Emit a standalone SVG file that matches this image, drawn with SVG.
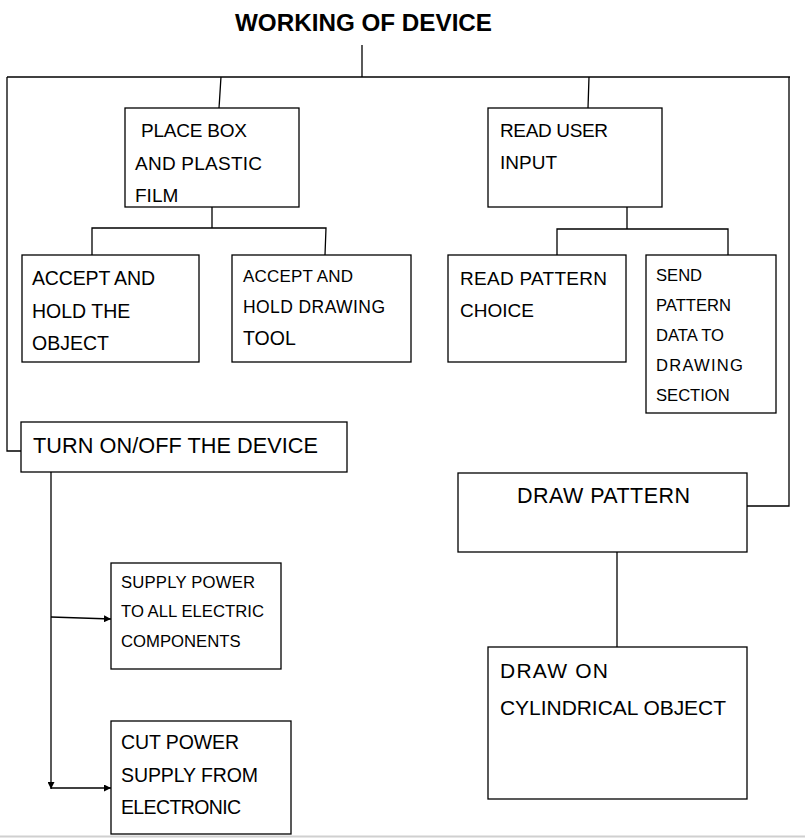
<svg xmlns="http://www.w3.org/2000/svg" width="805" height="838" viewBox="0 0 805 838">
<style>
.box{fill:#fff;stroke:#000;stroke-width:1.3}
.t{font-family:"Liberation Sans",Arial,sans-serif;fill:#000}
.c{fill:none;stroke:#000;stroke-width:1.3}
</style>
<defs>
<marker id="ah" viewBox="0 0 10 10" refX="10" refY="5" markerWidth="7" markerHeight="7" markerUnits="userSpaceOnUse" orient="auto">
<path d="M0,0 L10,5 L0,10 z" fill="#000"/>
</marker>
</defs>
<rect width="805" height="838" fill="#fff"/>
<line x1="0" y1="836.5" x2="805" y2="836.5" stroke="#d0d0d0" stroke-width="2"/>
<text class="t" x="235" y="31" font-size="24" font-weight="bold" textLength="257" lengthAdjust="spacingAndGlyphs">WORKING OF DEVICE</text>
<g id="connectors">
<path class="c" d="M362,45 V77"/>
<path class="c" d="M7,77 H790"/>
<path class="c" d="M221,77 L219,108"/>
<path class="c" d="M589,77 L588,108"/>
<path class="c" d="M7,77 V451 H21"/>
<path class="c" d="M789,77 V506 H747"/>
<path class="c" d="M212,207 V228 M92,255 V228 H326 L325,255"/>
<path class="c" d="M627,207 V229 M557,255 V229 H728 V255"/>
<path class="c" d="M617,552 V647"/>
<path class="c" d="M51,472 V789" marker-end="url(#ah)"/>
<path class="c" d="M51,617 L111,619" stroke="#444" marker-end="url(#ah)"/>
<path class="c" d="M51,788 H111" marker-end="url(#ah)"/>
</g>
<g id="place-box">
<rect class="box" x="125" y="108" width="174" height="99"/>
<text class="t" font-size="19"><tspan x="141" y="137" textLength="106">PLACE BOX</tspan><tspan x="135" y="170" textLength="127">AND PLASTIC</tspan><tspan x="135" y="202">FILM</tspan></text>
</g>
<g id="read-user-input">
<rect class="box" x="488" y="108" width="174" height="99"/>
<text class="t" font-size="19"><tspan x="500" y="137" textLength="108">READ USER</tspan><tspan x="500" y="169">INPUT</tspan></text>
</g>
<g id="accept-object">
<rect class="box" x="22" y="255" width="177" height="107"/>
<text class="t" font-size="19.5"><tspan x="32" y="285" textLength="123">ACCEPT AND</tspan><tspan x="32" y="318">HOLD THE</tspan><tspan x="32" y="350">OBJECT</tspan></text>
</g>
<g id="accept-tool">
<rect class="box" x="232" y="255" width="179" height="107"/>
<text class="t"><tspan x="243" y="282" font-size="17" textLength="110">ACCEPT AND</tspan><tspan x="243" y="313" font-size="17.5" textLength="142">HOLD DRAWING</tspan><tspan x="243" y="345" font-size="19.5">TOOL</tspan></text>
</g>
<g id="read-pattern">
<rect class="box" x="448" y="255" width="178" height="107"/>
<text class="t" font-size="19"><tspan x="460" y="285" textLength="147">READ PATTERN</tspan><tspan x="460" y="317">CHOICE</tspan></text>
</g>
<g id="send-pattern">
<rect class="box" x="646" y="255" width="130" height="158"/>
<text class="t" font-size="16.6"><tspan x="656" y="281">SEND</tspan><tspan x="656" y="311">PATTERN</tspan><tspan x="656" y="341">DATA TO</tspan><tspan x="656" y="371" textLength="87">DRAWING</tspan><tspan x="656" y="401">SECTION</tspan></text>
</g>
<g id="turn-on-off">
<rect class="box" x="21" y="422" width="326" height="50"/>
<text class="t" x="33" y="453" font-size="21.7" textLength="285">TURN ON/OFF THE DEVICE</text>
</g>
<g id="draw-pattern">
<rect class="box" x="458" y="473" width="289" height="79"/>
<text class="t" x="517" y="503" font-size="21.5" textLength="173">DRAW PATTERN</text>
</g>
<g id="supply-power">
<rect class="box" x="111" y="563" width="170" height="106"/>
<text class="t" font-size="16.7"><tspan x="121" y="588" textLength="134">SUPPLY POWER</tspan><tspan x="121" y="617" textLength="143">TO ALL ELECTRIC</tspan><tspan x="121" y="647">COMPONENTS</tspan></text>
</g>
<g id="draw-on">
<rect class="box" x="488" y="647" width="259" height="152"/>
<text class="t" font-size="21"><tspan x="500" y="678" textLength="108">DRAW ON</tspan><tspan x="500" y="715" textLength="226">CYLINDRICAL OBJECT</tspan></text>
</g>
<g id="cut-power">
<rect class="box" x="111" y="721" width="180" height="113"/>
<text class="t" font-size="19.5"><tspan x="121" y="749" textLength="118">CUT POWER</tspan><tspan x="121" y="782" textLength="137">SUPPLY FROM</tspan><tspan x="121" y="814" textLength="120">ELECTRONIC</tspan></text>
</g>
</svg>
